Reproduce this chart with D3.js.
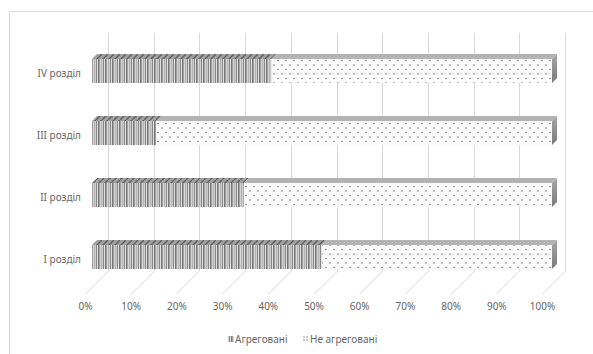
<!DOCTYPE html>
<html>
<head>
<meta charset="utf-8">
<script src="https://cdn.jsdelivr.net/npm/d3@7"></script>
<style>
  body { margin: 0; background: #fff; }
  text { font-family: "Noto Sans", "Open Sans", sans-serif; fill: #666; }
</style>
</head>
<body>
<div id="chart"></div>
<script>
const categories = ['I розділ', 'II розділ', 'III розділ', 'IV розділ'];
const aggregated = [50, 33, 14, 39];
const notAggregated = [50, 67, 86, 61];
const tickValues = [0, 10, 20, 30, 40, 50, 60, 70, 80, 90, 100];
const seriesNames = ['Агреговані', 'Не агреговані'];

const width = 593;
const height = 354;
const wall = { top: 33, bottom: 271 };
const floorDepth = 23;
const barShift = 16;   // front face of bars sits this far in front of the back wall
const depth = 5;       // bar thickness seen on top face
const barHeight = 24;

const svg = d3.select('#chart')
  .append('svg')
  .attr('width', width)
  .attr('height', height);

const defs = svg.append('defs');

// vertical stripes for the aggregated part
const aggFront = defs.append('pattern')
  .attr('id', 'aggFront')
  .attr('patternUnits', 'userSpaceOnUse')
  .attr('width', 7).attr('height', 4);
aggFront.append('rect').attr('width', 7).attr('height', 4).attr('fill', '#e0e0e0');
aggFront.append('rect').attr('x', 0).attr('width', 1.6).attr('height', 4).attr('fill', '#777');
aggFront.append('rect').attr('x', 2.8).attr('width', 1).attr('height', 4).attr('fill', '#a8a8a8');
aggFront.append('rect').attr('x', 4.8).attr('width', 1.2).attr('height', 4).attr('fill', '#888');

const aggTop = defs.append('pattern')
  .attr('id', 'aggTop')
  .attr('patternUnits', 'userSpaceOnUse')
  .attr('width', 6).attr('height', 6);
aggTop.append('rect').attr('width', 6).attr('height', 6).attr('fill', '#a0a0a0');
aggTop.append('path').attr('d', 'M0,6 L6,0').attr('stroke', '#606060').attr('stroke-width', 1.4);

// dots for the non-aggregated part
const dotFront = defs.append('pattern')
  .attr('id', 'dotFront')
  .attr('patternUnits', 'userSpaceOnUse')
  .attr('width', 8).attr('height', 9);
dotFront.append('rect').attr('width', 8).attr('height', 9).attr('fill', '#fbfbfb');
dotFront.append('circle').attr('cx', 2).attr('cy', 2).attr('r', 0.8).attr('fill', '#7a7a7a');
dotFront.append('circle').attr('cx', 6).attr('cy', 6.5).attr('r', 0.8).attr('fill', '#7a7a7a');

// finer dots so the legend key shows them
const dotLegend = defs.append('pattern')
  .attr('id', 'dotLegend')
  .attr('patternUnits', 'userSpaceOnUse')
  .attr('width', 3).attr('height', 3);
dotLegend.append('rect').attr('width', 3).attr('height', 3).attr('fill', '#fbfbfb');
dotLegend.append('circle').attr('cx', 1).attr('cy', 1).attr('r', 0.7).attr('fill', '#777');

const capGrad = defs.append('linearGradient')
  .attr('id', 'capGrad')
  .attr('x1', 0).attr('y1', 0).attr('x2', 0).attr('y2', 1);
capGrad.append('stop').attr('offset', '0%').attr('stop-color', '#a6a6a6');
capGrad.append('stop').attr('offset', '100%').attr('stop-color', '#7a7a7a');

// chart area border
svg.append('rect')
  .attr('x', 9.5).attr('y', 11.5)
  .attr('width', 620).attr('height', 360)
  .attr('fill', 'none')
  .attr('stroke', '#d9d9d9');

const xBack = d3.scaleLinear().domain([0, 100]).range([108, 565]);
const xBar = d3.scaleLinear().domain([0, 100]).range([108 - barShift, 565 - barShift + 3]);
const xFront = d3.scaleLinear().domain([0, 100]).range([108 - floorDepth, 565 - floorDepth]);

const yScale = d3.scalePoint()
  .domain(categories)
  .range([257, 71]);

// back wall and floor gridlines
const grid = svg.append('g').attr('class', 'grid');
grid.selectAll('line.wall')
  .data(tickValues)
  .join('line')
  .attr('class', 'wall')
  .attr('x1', d => Math.round(xBack(d)) + 0.5)
  .attr('x2', d => Math.round(xBack(d)) + 0.5)
  .attr('y1', wall.top)
  .attr('y2', wall.bottom)
  .attr('stroke', '#d9d9d9');

grid.selectAll('line.floor')
  .data(tickValues)
  .join('line')
  .attr('class', 'floor')
  .attr('x1', d => Math.round(xBack(d)) + 0.5)
  .attr('x2', d => Math.round(xBack(d)) + 0.5 - floorDepth)
  .attr('y1', wall.bottom)
  .attr('y2', wall.bottom + floorDepth)
  .attr('stroke', '#d9d9d9');

// bars
const rows = categories.map((c, i) => ({
  cat: c,
  parts: [
    { x0: 0, x1: aggregated[i], front: 'url(#aggFront)', top: 'url(#aggTop)' },
    { x0: aggregated[i], x1: aggregated[i] + notAggregated[i], front: 'url(#dotFront)', top: '#b3b3b3' },
  ],
}));

const bars = svg.append('g').attr('class', 'bars');

rows.forEach(row => {
  const yTop = yScale(row.cat) - barHeight / 2;
  const g = bars.append('g');

  row.parts.forEach(p => {
    const a = xBar(p.x0);
    const b = xBar(p.x1);
    g.append('rect')
      .attr('x', a).attr('y', yTop)
      .attr('width', b - a).attr('height', barHeight)
      .attr('fill', p.front);
    g.append('path')
      .attr('d', `M${a},${yTop} L${b},${yTop} L${b + depth},${yTop - depth} L${a + depth},${yTop - depth} Z`)
      .attr('fill', p.top);
  });

  const end = xBar(100);
  g.append('path')
    .attr('d', `M${end},${yTop} L${end + depth},${yTop - depth} L${end + depth},${yTop - depth + barHeight} L${end},${yTop + barHeight} Z`)
    .attr('fill', 'url(#capGrad)');
});

// category labels
svg.append('g')
  .selectAll('text')
  .data(categories)
  .join('text')
  .attr('x', 81)
  .attr('y', d => yScale(d) + 2)
  .attr('dy', '0.35em')
  .attr('text-anchor', 'end')
  .attr('font-size', 10)
  .text(d => d);

// value axis along the front edge of the floor
const axis = svg.append('g')
  .attr('transform', `translate(0, ${wall.bottom + floorDepth + 6})`)
  .call(d3.axisBottom(xFront).tickValues(tickValues).tickFormat(d => d + '%').tickSize(0));
axis.select('.domain').remove();
axis.selectAll('text')
  .attr('font-size', 10)
  .attr('font-family', '"Noto Sans", sans-serif')
  .attr('fill', '#666');

// legend
const legendItems = [
  { name: seriesNames[0], fill: 'url(#aggFront)', x: 228 },
  { name: seriesNames[1], fill: 'url(#dotLegend)', x: 303 },
];
const legend = svg.append('g').attr('class', 'legend');
legendItems.forEach(item => {
  legend.append('rect')
    .attr('x', item.x).attr('y', 336)
    .attr('width', 6).attr('height', 6)
    .attr('fill', item.fill);
  legend.append('text')
    .attr('x', item.x + 7).attr('y', 339)
    .attr('dy', '0.35em')
    .attr('font-size', 10)
    .text(item.name);
});
</script>
</body>
</html>
